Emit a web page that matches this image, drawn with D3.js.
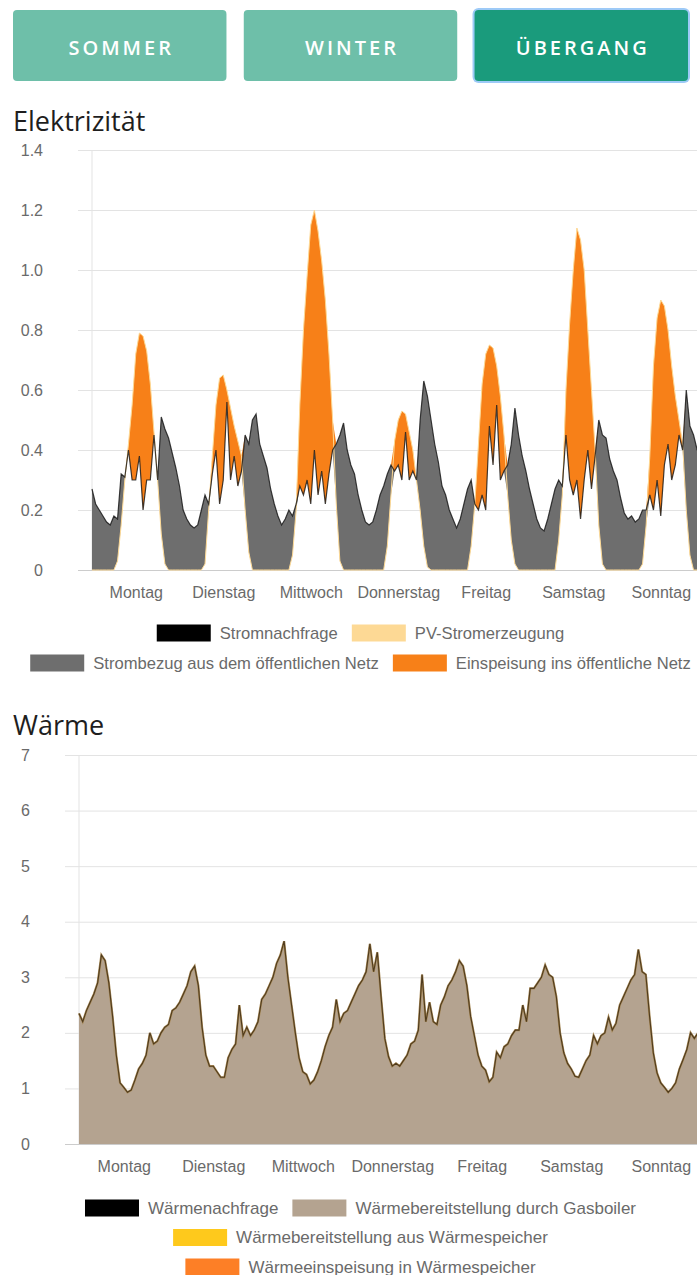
<!DOCTYPE html>
<html>
<head>
<meta charset="utf-8">
<script src="https://cdn.jsdelivr.net/npm/d3@7"></script>
<style>
  html, body { margin: 0; padding: 0; background: #fff; overflow: hidden; }
  svg { display: block; }
</style>
</head>
<body>
<div id="wrapper"></div>
<script>
// 1. Data
const seasons = ["SOMMER", "WINTER", "ÜBERGANG"]
const activeSeason = "ÜBERGANG"
const days = ["Montag", "Dienstag", "Mittwoch", "Donnerstag", "Freitag", "Samstag", "Sonntag"]

const stromTicks = [0, 0.2, 0.4, 0.6, 0.8, 1.0, 1.2, 1.4]
const stromTickLabels = ["0", "0.2", "0.4", "0.6", "0.8", "1.0", "1.2", "1.4"]
const waermeTicks = [0, 1, 2, 3, 4, 5, 6, 7]

// hourly values, one line per day (Mo..So)
const stromnachfrage = [
  0.27,0.22,0.2,0.18,0.16,0.15,0.18,0.17,0.32,0.31,0.4,0.3,0.3,0.38,0.2,0.3,0.3,0.45,0.3,0.51,0.47,0.44,0.39,0.34,
  0.28,0.2,0.17,0.15,0.14,0.15,0.2,0.25,0.22,0.32,0.4,0.22,0.3,0.56,0.3,0.38,0.28,0.33,0.45,0.42,0.5,0.52,0.42,0.38,
  0.34,0.27,0.22,0.18,0.15,0.17,0.2,0.18,0.22,0.28,0.25,0.3,0.22,0.4,0.25,0.33,0.22,0.32,0.4,0.42,0.45,0.49,0.4,0.35,
  0.32,0.25,0.2,0.16,0.15,0.16,0.2,0.25,0.28,0.32,0.35,0.33,0.35,0.3,0.46,0.3,0.33,0.3,0.5,0.63,0.58,0.5,0.42,0.36,
  0.28,0.25,0.2,0.17,0.14,0.17,0.22,0.27,0.3,0.22,0.2,0.25,0.2,0.48,0.35,0.55,0.3,0.33,0.35,0.42,0.54,0.45,0.38,0.33,
  0.27,0.22,0.17,0.14,0.13,0.17,0.22,0.27,0.3,0.28,0.45,0.3,0.25,0.3,0.17,0.3,0.4,0.27,0.38,0.5,0.45,0.44,0.37,0.33,
  0.3,0.24,0.19,0.17,0.18,0.16,0.17,0.2,0.2,0.25,0.2,0.3,0.18,0.35,0.42,0.3,0.35,0.45,0.4,0.6,0.48,0.45,0.4,0.38
]
const pvErzeugung = [
  0,0,0,0,0,0,0,0.03,0.15,0.3,0.42,0.55,0.72,0.79,0.78,0.73,0.62,0.46,0.3,0.12,0.02,0,0,0,
  0,0,0,0,0,0,0,0.02,0.2,0.38,0.55,0.64,0.65,0.6,0.54,0.48,0.43,0.38,0.2,0.06,0,0,0,0,
  0,0,0,0,0,0,0,0.05,0.2,0.55,0.8,0.98,1.15,1.2,1.13,1.03,0.9,0.72,0.5,0.22,0.03,0,0,0,
  0,0,0,0,0,0,0,0,0,0.08,0.25,0.43,0.5,0.53,0.52,0.46,0.4,0.3,0.2,0.08,0.01,0,0,0,
  0,0,0,0,0,0,0,0,0.08,0.22,0.42,0.62,0.72,0.75,0.74,0.68,0.58,0.45,0.25,0.1,0.02,0,0,0,
  0,0,0,0,0,0,0,0,0.1,0.25,0.6,0.82,1.0,1.14,1.1,1.0,0.8,0.6,0.4,0.15,0.02,0,0,0,
  0,0,0,0,0,0,0,0.02,0.15,0.38,0.68,0.84,0.9,0.88,0.8,0.68,0.58,0.5,0.42,0.2,0.05,0,0,0
]
const waermenachfrage = [
  2.35,2.2,2.4,2.55,2.7,2.9,3.4,3.3,2.9,2.3,1.6,1.1,1.02,0.93,0.97,1.15,1.35,1.45,1.6,2.0,1.8,1.85,2.0,2.1,
  2.15,2.4,2.45,2.55,2.7,2.85,3.1,3.2,2.85,2.1,1.6,1.4,1.4,1.3,1.2,1.2,1.55,1.7,1.8,2.5,1.95,2.1,1.95,2.05,
  2.2,2.6,2.7,2.85,3.0,3.25,3.4,3.65,3.0,2.5,2.0,1.55,1.3,1.25,1.08,1.15,1.3,1.5,1.75,1.95,2.1,2.6,2.2,2.35,
  2.4,2.55,2.7,2.85,2.95,3.1,3.6,3.1,3.45,2.65,1.9,1.57,1.4,1.45,1.4,1.5,1.6,1.8,1.85,2.05,3.05,2.2,2.55,2.2,
  2.15,2.5,2.65,2.85,2.95,3.1,3.3,3.2,2.85,2.3,1.95,1.6,1.4,1.33,1.12,1.2,1.65,1.55,1.75,1.8,1.95,2.05,2.05,2.5,
  2.2,2.8,2.8,2.9,3.0,3.22,3.05,3.0,2.65,2.0,1.64,1.45,1.35,1.22,1.2,1.35,1.5,1.6,1.95,1.8,1.95,2.0,2.28,2.05,
  2.17,2.5,2.65,2.8,2.95,3.05,3.5,3.1,3.05,2.3,1.64,1.28,1.1,1.02,0.93,1.0,1.1,1.35,1.52,1.7,2.0,1.9,2.0,2.0
]
// gas boiler covers the whole heat demand in this season
const gasboiler = waermenachfrage

const stromLegend = [
  [{ label: "Stromnachfrage", color: "#000000" }, { label: "PV-Stromerzeugung", color: "#fdd995" }],
  [{ label: "Strombezug aus dem öffentlichen Netz", color: "#6e6e6e" }, { label: "Einspeisung ins öffentliche Netz", color: "#f78018" }],
]
const waermeLegend = [
  [{ label: "Wärmenachfrage", color: "#000000" }, { label: "Wärmebereitstellung durch Gasboiler", color: "#b4a390" }],
  [{ label: "Wärmebereitstellung aus Wärmespeicher", color: "#fec91c" }],
  [{ label: "Wärmeeinspeisung in Wärmespeicher", color: "#fd7f26" }],
]

// 2. Dimensions
const width = 720
const height = 1275
const hours = d3.range(stromnachfrage.length)

const svg = d3.select("#wrapper").append("svg")
  .attr("width", width)
  .attr("height", height)

// 3. Season buttons
const btnScale = d3.scaleBand().domain(seasons).range([13, 688]).paddingInner(0.075)
const btns = svg.append("g").selectAll("g").data(seasons).join("g")
  .attr("transform", d => `translate(${btnScale(d)},10)`)
btns.filter(d => d === activeSeason).append("rect")
  .attr("x", -2).attr("y", -2)
  .attr("width", btnScale.bandwidth() + 4).attr("height", 75)
  .attr("rx", 6).attr("fill", "#9dcaf7")
btns.append("rect")
  .attr("width", btnScale.bandwidth()).attr("height", 71)
  .attr("rx", 4)
  .attr("fill", d => d === activeSeason ? "#1a9b7c" : "#6ebfa9")
btns.append("text")
  .attr("x", btnScale.bandwidth() / 2 + 1.5).attr("y", 45)
  .attr("text-anchor", "middle")
  .attr("fill", "#fff")
  .style("font", "600 20px 'Open Sans', sans-serif")
  .style("letter-spacing", "3px")
  .text(d => d)

// helpers
function drawTitle(text, y) {
  svg.append("text")
    .attr("x", 13).attr("y", y)
    .attr("fill", "#1e1e1e")
    .style("font", "27px 'Open Sans', sans-serif")
    .text(text)
}

function drawGrid(y, ticks, labels, gridLeft, labelRight, axisX, top, bottom) {
  const g = svg.append("g").attr("transform", `translate(${gridLeft},0)`)
    .call(d3.axisLeft(y).tickValues(ticks)
      .tickFormat((d, i) => labels[i])
      .tickSize(-(width - gridLeft))
      .tickPadding(gridLeft - labelRight))
  g.select(".domain").remove()
  g.selectAll("line").attr("stroke", d => d === 0 ? "#cccccc" : "#e3e3e3")
  g.selectAll("text")
    .attr("fill", "#6a6a6a")
    .style("font", "16px 'Liberation Sans', Arial, sans-serif")
  svg.append("line")
    .attr("x1", axisX).attr("x2", axisX)
    .attr("y1", top).attr("y2", bottom)
    .attr("stroke", "#e3e3e3")
}

function drawDays(x, yPos) {
  const g = svg.append("g").attr("transform", `translate(0,${yPos})`)
    .call(d3.axisBottom(x)
      .tickValues(days.map((d, i) => i * 24 + 12))
      .tickFormat((d, i) => days[i])
      .tickSize(0).tickPadding(17))
  g.select(".domain").remove()
  g.selectAll("text")
    .attr("fill", "#6a6a6a")
    .style("font", "16px 'Liberation Sans', Arial, sans-serif")
}

function drawLegend(rows, yStart, rowGap, fontSize) {
  rows.forEach((row, r) => {
    const g = svg.append("g")
    let cursor = 0
    row.forEach((item, i) => {
      const it = g.append("g").attr("transform", `translate(${cursor},0)`)
      it.append("rect")
        .attr("y", -8.5).attr("width", 54).attr("height", 17)
        .attr("fill", item.color)
      const t = it.append("text")
        .attr("x", 63).attr("y", 5.5)
        .attr("fill", "#6a6a6a")
        .style("font", `${fontSize}px 'Liberation Sans', Arial, sans-serif`)
        .text(item.label)
      cursor += 63 + t.node().getComputedTextLength() + (i < row.length - 1 ? 14 : 0)
    })
    g.attr("transform", `translate(${360.5 - cursor / 2},${yStart + r * rowGap})`)
  })
}

// 4. Elektrizität
drawTitle("Elektrizität", 131)

const xStrom = d3.scaleLinear().domain([0, 168]).range([92, 92 + 7 * 87.5])
const yStrom = d3.scaleLinear().domain([0, 1.4]).range([570, 150])

drawGrid(yStrom, stromTicks, stromTickLabels, 78, 43, 92, 150, 570)

const bezugArea = d3.area()
  .x(i => xStrom(i))
  .y0(i => yStrom(Math.min(pvErzeugung[i], stromnachfrage[i])))
  .y1(i => yStrom(stromnachfrage[i]))
const einspeisungArea = d3.area()
  .x(i => xStrom(i))
  .y0(i => yStrom(stromnachfrage[i]))
  .y1(i => yStrom(Math.max(pvErzeugung[i], stromnachfrage[i])))

svg.append("path").datum(hours)
  .attr("d", bezugArea).attr("fill", "#6e6e6e")
svg.append("path").datum(hours)
  .attr("d", einspeisungArea).attr("fill", "#f78018")
svg.append("path").datum(hours)
  .attr("d", d3.line().x(i => xStrom(i)).y(i => yStrom(pvErzeugung[i])))
  .attr("fill", "none").attr("stroke", "#fdd995").attr("stroke-width", 1)
svg.append("path").datum(hours)
  .attr("d", d3.line().x(i => xStrom(i)).y(i => yStrom(stromnachfrage[i])))
  .attr("fill", "none").attr("stroke", "#111").attr("stroke-opacity", 0.8)
  .attr("stroke-width", 1.2)

drawDays(xStrom, 570)
drawLegend(stromLegend, 633, 30, 16.6)

// 5. Wärme
drawTitle("Wärme", 735)

const xWaerme = d3.scaleLinear().domain([0, 168]).range([79, 79 + 7 * 89.5])
const yWaerme = d3.scaleLinear().domain([0, 7]).range([1144, 755])

drawGrid(yWaerme, waermeTicks, waermeTicks.map(String), 65, 30, 79, 755, 1144)

svg.append("path").datum(hours)
  .attr("d", d3.area().x(i => xWaerme(i)).y0(yWaerme(0)).y1(i => yWaerme(gasboiler[i])))
  .attr("fill", "#b4a390")
svg.append("path").datum(hours)
  .attr("d", d3.line().x(i => xWaerme(i)).y(i => yWaerme(gasboiler[i])))
  .attr("fill", "none").attr("stroke", "#a88a58").attr("stroke-width", 2.2)
svg.append("path").datum(hours)
  .attr("d", d3.line().x(i => xWaerme(i)).y(i => yWaerme(waermenachfrage[i])))
  .attr("fill", "none").attr("stroke", "#4f3b1e").attr("stroke-width", 1.1)

drawDays(xWaerme, 1144)
drawLegend(waermeLegend, 1208, 29.5, 17)
</script>
</body>
</html>
